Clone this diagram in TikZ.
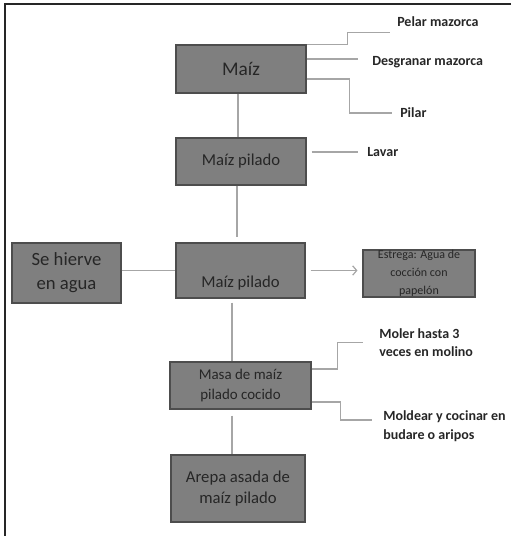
\documentclass[tikz,border=0pt]{standalone}
\usepackage{fontspec}
\setmainfont{Carlito}
\usepackage{xcolor}
\usetikzlibrary{positioning, arrows.meta}
\definecolor{boxfill}{HTML}{7F7F7F}
\definecolor{boxline}{HTML}{4D4D4D}
\definecolor{linkgray}{HTML}{A6A6A6}
\definecolor{ink}{HTML}{262626}

\begin{document}
\begin{tikzpicture}[
      x=0.75pt, y=-0.75pt,
      box/.style={draw=boxline, fill=boxfill, line width=0.8pt, align=center, inner sep=0pt, text=ink},
      tag/.style={anchor=west, align=left, inner sep=0pt, text=ink, font=\bfseries\fontsize{10.5}{14}\selectfont},
      link/.style={draw=linkgray, line width=0.9pt},
      every edge/.style={link, -{Straight Barb[length=3pt, width=7pt]}}
    ]
    \useasboundingbox (0,0) rectangle (511,536);
    \draw[line width=1.2pt, draw=ink] (511,4) -- (5,4) -- (5,536);

    \node[box, minimum width=97.5pt, minimum height=36pt, font=\fontsize{14.5}{17}\selectfont] (maiz) at (241,69) {Maíz};
    \node[box, minimum width=97.5pt, minimum height=35.25pt, font=\fontsize{12.5}{15}\selectfont] (pilado1) at (241,161.5) {Maíz pilado};
    \node[box, minimum width=96.75pt, minimum height=41.25pt, text height=28.5pt, text depth=3pt, font=\fontsize{12.5}{15}\selectfont] (pilado2) at (240.5,270.5) {Maíz pilado};
    \node[box, minimum width=81.75pt, minimum height=45pt, font=\fontsize{14}{18}\selectfont] (hierve) at (66.5,273) {Se hierve\\en agua};
    \node[box, minimum width=84pt, minimum height=35.25pt, font=\fontsize{9}{13.5}\selectfont] (estrega) at (419,273.5) {Estrega: Agua de\\cocción con\\papelón};
    \node[box, minimum width=105.75pt, minimum height=35.25pt, font=\fontsize{11.2}{15}\selectfont] (masa) at (240.5,385.5) {Masa de maíz\\pilado cocido};
    \node[box, minimum width=100.5pt, minimum height=50.25pt, font=\fontsize{12.5}{15.75}\selectfont] (arepa) at (238,488.5) {Arepa asada de\\maíz pilado};

    \node[tag] (pelar) at (397,22) {Pelar mazorca};
    \node[tag] (desgranar) at (372,62) {Desgranar mazorca};
    \node[tag] (pilar) at (400,113) {Pilar};
    \node[tag] (lavar) at (367,152) {Lavar};
    \node[tag] (moler) at (379,342.5) {Moler hasta 3\\veces en molino};
    \node[tag] (moldear) at (383,426) {Moldear y cocinar en\\budare o aripos};

    \draw[link] ([xshift=-2.25pt]maiz.south) -- ([xshift=-2.25pt]pilado1.north);
    \draw[link, shorten >=3.75pt] ([xshift=-3pt]pilado1.south) -- ([xshift=-3pt]pilado1.south |- pilado2.north);
    \draw[link, shorten <=3pt] ([xshift=-6.4pt]pilado2.south) -- ([xshift=-6.4pt]masa.north);
    \draw[link, shorten <=4.5pt] ([xshift=-6.4pt]masa.south) -- ([xshift=-6.4pt]masa.south |- arepa.north);
    \draw[link] (pilado2.west -| hierve.east) -- (pilado2.west);
    \draw (pilado2.east) edge[shorten <=3.75pt, shorten >=3.75pt] (pilado2.east -| estrega.west);

    \draw[link] (maiz.north east) -- ++(41,0) |- ([xshift=-5.25pt, yshift=-3.75pt]pelar.south west);
    \draw[link, shorten >=10.5pt] ([yshift=7.5pt]maiz.east) -- ([yshift=7.5pt]maiz.east -| desgranar.west);
    \draw[link, shorten >=6pt] ([yshift=-7.5pt]maiz.east) -- ++(43,0) |- (pilar.west);
    \draw[link, shorten <=3.75pt, shorten >=6.75pt] (pilado1.east |- lavar.west) -- (lavar.west);
    \draw[link, shorten >=12pt] ([yshift=12.4pt]masa.east) -- ++(26,0) |- (moler.west);
    \draw[link, shorten >=8.25pt] ([yshift=-12.4pt]masa.east) -- ++(29,0) |- ([yshift=4.5pt]moldear.west);
  \end{tikzpicture}
\end{document}
